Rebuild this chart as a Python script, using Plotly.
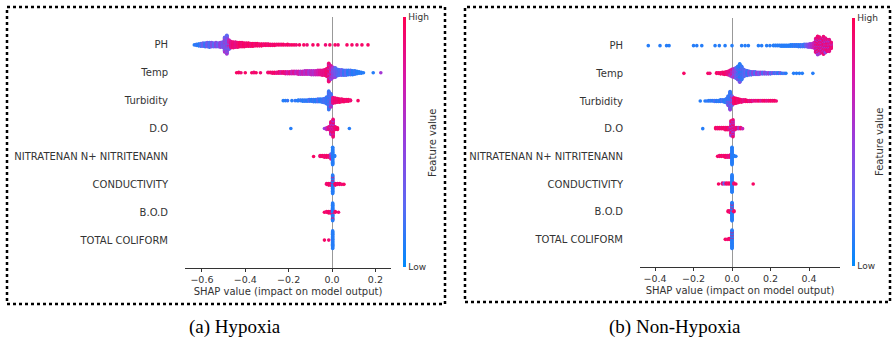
import math
import plotly.graph_objects as go

# Feature names, top to bottom
features = ["PH", "Temp", "Turbidity", "D.O", "NITRATENAN N+ NITRITENANN",
            "CONDUCTIVITY", "B.O.D", "TOTAL COLIFORM"]

# Each entry: (SHAP value bin, number of points, feature value 0=Low .. 1=High)
# ---------------- (a) Hypoxia ----------------
hyp_PH = [(-0.635, 1, 0.1), (-0.625, 3, 0.15), (-0.615, 5, 0.1), (-0.605, 7, 0.2), (-0.595, 8, 0.3),
          (-0.585, 9, 0.15), (-0.575, 10, 0.35), (-0.565, 11, 0.2), (-0.555, 10, 0.4), (-0.545, 9, 0.25),
          (-0.535, 10, 0.45), (-0.525, 9, 0.3), (-0.515, 11, 0.5), (-0.505, 12, 0.35),
          (-0.495, 20, 0.3), (-0.495, 12, 0.6), (-0.485, 22, 0.25), (-0.485, 18, 0.55),
          (-0.475, 14, 0.7), (-0.475, 6, 0.3),
          (-0.465, 14, 0.85), (-0.455, 13, 0.9), (-0.445, 12, 0.85), (-0.435, 11, 0.9), (-0.425, 10, 0.95),
          (-0.415, 10, 0.9), (-0.405, 9, 0.95), (-0.395, 8, 0.9), (-0.385, 8, 0.95), (-0.375, 7, 0.9),
          (-0.365, 7, 0.95), (-0.355, 6, 0.9), (-0.345, 6, 0.95), (-0.335, 5, 0.9), (-0.325, 5, 0.95),
          (-0.315, 4, 0.9), (-0.305, 4, 0.95), (-0.295, 4, 0.9), (-0.285, 3, 0.95), (-0.275, 3, 0.9),
          (-0.265, 3, 0.95), (-0.255, 2, 0.9), (-0.245, 2, 0.95), (-0.235, 2, 0.9), (-0.225, 2, 0.95),
          (-0.215, 1, 0.9), (-0.205, 2, 0.95), (-0.195, 1, 0.9), (-0.185, 1, 0.95),
          (-0.175, 1, 0.95), (-0.165, 1, 0.9), (-0.15, 1, 0.95), (-0.13, 1, 0.95), (-0.115, 1, 0.9),
          (-0.088, 1, 0.95), (-0.065, 1, 0.95), (-0.03, 1, 0.9), (-0.01, 1, 0.95), (0.014, 1, 0.95),
          (0.028, 1, 0.9), (0.069, 1, 0.95), (0.092, 1, 0.95), (0.115, 1, 0.9), (0.138, 1, 0.95),
          (0.166, 1, 0.95)]
hyp_Temp = [(-0.44, 1, 0.95), (-0.43, 2, 0.95), (-0.42, 1, 0.9), (-0.40, 1, 0.95), (-0.37, 1, 0.95),
            (-0.36, 2, 0.9), (-0.35, 1, 0.95), (-0.33, 1, 0.9),
            (-0.295, 2, 0.9), (-0.285, 2, 0.95), (-0.275, 3, 0.9), (-0.265, 3, 0.95), (-0.255, 3, 0.85),
            (-0.245, 4, 0.9), (-0.235, 4, 0.8), (-0.225, 4, 0.9), (-0.215, 5, 0.85), (-0.205, 5, 0.75),
            (-0.195, 5, 0.85), (-0.185, 6, 0.7), (-0.175, 6, 0.8), (-0.165, 6, 0.65), (-0.155, 7, 0.75),
            (-0.145, 7, 0.6), (-0.135, 7, 0.7), (-0.125, 8, 0.6), (-0.115, 8, 0.7), (-0.105, 8, 0.55),
            (-0.095, 9, 0.65), (-0.085, 9, 0.6), (-0.075, 9, 0.7), (-0.065, 10, 0.75), (-0.055, 10, 0.8),
            (-0.045, 11, 0.85), (-0.035, 12, 0.85), (-0.025, 16, 0.9),
            (-0.015, 26, 0.9), (-0.015, 12, 0.65), (-0.005, 16, 0.8), (-0.005, 12, 0.5),
            (0.005, 12, 0.55), (0.005, 10, 0.3), (0.015, 10, 0.45), (0.015, 10, 0.25),
            (0.025, 7, 0.4), (0.025, 7, 0.2), (0.035, 12, 0.2), (0.045, 12, 0.3), (0.055, 11, 0.15),
            (0.065, 11, 0.25), (0.075, 10, 0.1), (0.085, 10, 0.2), (0.095, 9, 0.1), (0.105, 8, 0.15),
            (0.115, 6, 0.1), (0.125, 4, 0.1), (0.135, 3, 0.1), (0.145, 1, 0.1),
            (0.19, 1, 0.1), (0.225, 1, 0.55)]
hyp_Turbidity = [(-0.225, 1, 0.1), (-0.215, 1, 0.1), (-0.205, 1, 0.15), (-0.185, 1, 0.1), (-0.17, 1, 0.15),
                 (-0.16, 1, 0.1), (-0.155, 2, 0.1), (-0.145, 2, 0.15), (-0.135, 3, 0.1), (-0.125, 3, 0.15),
                 (-0.115, 3, 0.1), (-0.105, 4, 0.2), (-0.095, 4, 0.1), (-0.085, 5, 0.15), (-0.075, 5, 0.1),
                 (-0.065, 6, 0.2), (-0.055, 6, 0.1), (-0.045, 7, 0.15), (-0.035, 9, 0.2), (-0.025, 14, 0.15),
                 (-0.015, 30, 0.15), (-0.015, 6, 0.4), (-0.005, 20, 0.2), (-0.005, 6, 0.6),
                 (0.005, 12, 0.85), (0.015, 10, 0.9), (0.025, 8, 0.9), (0.035, 7, 0.95), (0.045, 6, 0.9),
                 (0.055, 5, 0.95), (0.065, 4, 0.9), (0.075, 4, 0.95), (0.085, 2, 0.9), (0.12, 1, 0.95)]
hyp_DO = [(-0.19, 1, 0.1), (-0.035, 1, 0.5), (-0.025, 3, 0.7), (-0.015, 4, 0.85), (-0.005, 10, 0.9),
          (-0.005, 6, 0.6), (0.005, 14, 0.9), (0.005, 8, 0.6), (0.015, 4, 0.9), (0.025, 3, 0.95),
          (0.08, 1, 0.1)]
hyp_Nitrate = [(-0.085, 1, 0.95), (-0.055, 2, 0.9), (-0.045, 2, 0.95), (-0.035, 3, 0.9), (-0.025, 3, 0.95),
               (-0.015, 3, 0.9), (-0.005, 4, 0.85), (-0.005, 3, 0.3), (0.003, 22, 0.1), (0.012, 2, 0.1)]
hyp_Conductivity = [(-0.025, 2, 0.9), (-0.015, 3, 0.95), (-0.006, 3, 0.9), (0.003, 22, 0.1), (0.003, 3, 0.9),
                    (0.015, 3, 0.95), (0.025, 2, 0.9), (0.035, 2, 0.95), (0.045, 1, 0.9), (0.055, 1, 0.95)]
hyp_BOD = [(-0.035, 1, 0.95), (-0.025, 2, 0.9), (-0.015, 3, 0.95), (-0.006, 3, 0.9), (0.003, 22, 0.1),
           (0.003, 2, 0.9), (0.015, 2, 0.95), (0.03, 1, 0.9)]
hyp_Coliform = [(-0.035, 1, 0.95), (-0.015, 1, 0.9), (0.003, 22, 0.1)]

# ---------------- (b) Non-Hypoxia ----------------
non_PH = [(-0.435, 1, 0.1), (-0.374, 1, 0.1), (-0.34, 1, 0.1), (-0.327, 1, 0.1), (-0.2, 1, 0.1),
          (-0.183, 1, 0.1), (-0.157, 1, 0.1), (-0.088, 1, 0.1), (-0.066, 1, 0.1), (-0.036, 1, 0.1),
          (0.0, 1, 0.1), (0.05, 1, 0.1), (0.068, 1, 0.1), (0.085, 1, 0.1), (0.137, 1, 0.1),
          (0.154, 1, 0.1), (0.18, 1, 0.1), (0.197, 1, 0.1),
          (0.215, 2, 0.1), (0.225, 2, 0.1), (0.235, 2, 0.1), (0.245, 2, 0.1), (0.255, 3, 0.1),
          (0.265, 3, 0.1), (0.275, 3, 0.1), (0.285, 3, 0.1), (0.295, 3, 0.1), (0.305, 4, 0.1),
          (0.315, 4, 0.1), (0.325, 4, 0.15), (0.335, 4, 0.1), (0.345, 5, 0.15), (0.355, 5, 0.1),
          (0.365, 5, 0.2), (0.375, 6, 0.15), (0.385, 6, 0.3), (0.395, 7, 0.4), (0.405, 8, 0.5),
          (0.415, 9, 0.6), (0.425, 12, 0.7),
          (0.435, 20, 0.85), (0.435, 10, 0.6), (0.445, 26, 0.9), (0.445, 14, 0.55),
          (0.455, 24, 0.9), (0.455, 12, 0.6), (0.465, 20, 0.85), (0.465, 10, 0.55),
          (0.475, 26, 0.9), (0.475, 12, 0.6), (0.485, 22, 0.85), (0.485, 10, 0.5),
          (0.495, 18, 0.9), (0.495, 8, 0.6), (0.505, 18, 0.85), (0.505, 8, 0.55),
          (0.515, 10, 0.9), (0.515, 4, 0.6)]
non_Temp = [(-0.25, 1, 0.95), (-0.125, 1, 0.95), (-0.115, 1, 0.9), (-0.08, 2, 0.95), (-0.07, 2, 0.9),
            (-0.06, 3, 0.95), (-0.05, 4, 0.9), (-0.04, 5, 0.95), (-0.03, 6, 0.9), (-0.02, 8, 0.85),
            (-0.01, 9, 0.85), (-0.01, 3, 0.6), (0.0, 10, 0.8), (0.0, 6, 0.5), (0.01, 10, 0.6),
            (0.01, 8, 0.35), (0.02, 10, 0.5), (0.02, 12, 0.25), (0.03, 10, 0.4), (0.03, 18, 0.15),
            (0.04, 8, 0.4), (0.04, 30, 0.1), (0.05, 6, 0.4), (0.05, 22, 0.15), (0.06, 16, 0.2),
            (0.07, 12, 0.3), (0.08, 10, 0.15), (0.09, 8, 0.4), (0.10, 7, 0.2), (0.11, 6, 0.45),
            (0.12, 6, 0.2), (0.13, 5, 0.5), (0.14, 5, 0.3), (0.15, 4, 0.5), (0.16, 4, 0.2),
            (0.17, 4, 0.45), (0.18, 3, 0.3), (0.19, 3, 0.5), (0.20, 3, 0.2), (0.21, 2, 0.4),
            (0.22, 2, 0.15), (0.23, 2, 0.3), (0.24, 2, 0.1), (0.25, 2, 0.35), (0.26, 1, 0.1),
            (0.27, 1, 0.2), (0.28, 1, 0.1), (0.32, 1, 0.1), (0.335, 1, 0.1), (0.35, 1, 0.1),
            (0.365, 1, 0.1), (0.42, 1, 0.1)]
non_Turbidity = [(-0.165, 1, 0.1), (-0.14, 1, 0.1), (-0.13, 1, 0.15), (-0.12, 2, 0.1), (-0.11, 2, 0.15),
                 (-0.10, 2, 0.1), (-0.09, 3, 0.2), (-0.08, 3, 0.1), (-0.07, 3, 0.15), (-0.06, 4, 0.1),
                 (-0.05, 4, 0.2), (-0.04, 5, 0.1), (-0.03, 8, 0.15), (-0.02, 14, 0.15), (-0.02, 4, 0.45),
                 (-0.01, 26, 0.15), (-0.01, 8, 0.5), (0.0, 12, 0.3), (0.0, 6, 0.7),
                 (0.01, 12, 0.9), (0.02, 10, 0.95), (0.03, 8, 0.9), (0.04, 6, 0.95), (0.05, 5, 0.9),
                 (0.06, 4, 0.85), (0.07, 4, 0.9), (0.08, 3, 0.95), (0.09, 3, 0.85), (0.10, 3, 0.9),
                 (0.11, 2, 0.8), (0.12, 2, 0.9), (0.13, 2, 0.85), (0.14, 2, 0.95), (0.15, 2, 0.8),
                 (0.16, 2, 0.9), (0.17, 2, 0.95), (0.18, 2, 0.85), (0.19, 2, 0.9), (0.20, 2, 0.95),
                 (0.21, 2, 0.9), (0.22, 2, 0.95), (0.23, 1, 0.9)]
non_DO = [(-0.152, 1, 0.1), (-0.085, 2, 0.95), (-0.075, 2, 0.9), (-0.065, 2, 0.95), (-0.055, 2, 0.9),
          (-0.045, 2, 0.95), (-0.035, 3, 0.9), (-0.025, 3, 0.95), (-0.015, 3, 0.85), (-0.005, 10, 0.9),
          (-0.005, 6, 0.5), (0.005, 10, 0.9), (0.005, 8, 0.55), (0.015, 3, 0.85), (0.025, 2, 0.9),
          (0.035, 2, 0.6), (0.045, 2, 0.9), (0.055, 1, 0.7)]
non_Nitrate = [(-0.075, 1, 0.95), (-0.065, 2, 0.9), (-0.055, 2, 0.95), (-0.045, 2, 0.9), (-0.035, 3, 0.95),
               (-0.025, 3, 0.9), (-0.015, 3, 0.85), (-0.006, 4, 0.9), (0.0, 22, 0.1), (0.01, 2, 0.1),
               (0.02, 1, 0.1)]
non_Conductivity = [(-0.07, 1, 0.95), (-0.05, 2, 0.9), (-0.04, 2, 0.3), (-0.03, 2, 0.95), (-0.02, 2, 0.9),
                    (-0.01, 2, 0.95), (0.0, 22, 0.1), (0.01, 2, 0.9), (0.02, 1, 0.95), (0.11, 1, 0.95)]
non_BOD = [(-0.02, 2, 0.95), (-0.01, 3, 0.9), (0.0, 22, 0.1), (0.0, 3, 0.9), (0.01, 2, 0.95)]
non_Coliform = [(-0.035, 1, 0.95), (-0.025, 1, 0.9), (-0.015, 2, 0.95), (-0.005, 2, 0.9),
                (0.0, 22, 0.1), (0.0, 3, 0.9)]

hyp_rows = [hyp_PH, hyp_Temp, hyp_Turbidity, hyp_DO, hyp_Nitrate, hyp_Conductivity, hyp_BOD, hyp_Coliform]
non_rows = [non_PH, non_Temp, non_Turbidity, non_DO, non_Nitrate, non_Conductivity, non_BOD, non_Coliform]

hyp_xticks = [-0.6, -0.4, -0.2, 0.0, 0.2]
hyp_xticklabels = ["\u22120.6", "\u22120.4", "\u22120.2", "0.0", "0.2"]
non_xticks = [-0.4, -0.2, 0.0, 0.2, 0.4]
non_xticklabels = ["\u22120.4", "\u22120.2", "0.0", "0.2", "0.4"]

captions = ["(a) Hypoxia", "(b) Non-Hypoxia"]
xlabel = "SHAP value (impact on model output)"
cbar_title = "Feature value"


def swarm(bins):
    """Stack points that share a SHAP bin vertically (beeswarm, as shap does)."""
    groups, order = {}, []
    for x, n, fv in bins:
        key = round(x, 4)
        if key not in groups:
            groups[key] = []
            order.append(key)
        groups[key].append((n, fv))
    xs, layers, fvs = [], [], []
    for key in order:
        seq = []
        for j, (n, fv) in enumerate(groups[key]):
            for i in range(n):
                seq.append(((i + 0.5) / n, j, fv))
        seq.sort()
        seq = [s[2] for s in seq]
        for p in range((len(seq) - 1) // 2):
            if p % 2 == 1:
                a, b = 2 * p + 1, 2 * p + 2
                seq[a], seq[b] = seq[b], seq[a]
        for k, fv in enumerate(seq):
            layer = math.ceil(k / 2) * (1 if k % 2 else -1)
            xs.append(key)
            layers.append(layer)
            fvs.append(fv)
    L = max(abs(v) for v in layers)
    scale = 0.9 * 0.4 / (L + 1)
    return xs, [v * scale for v in layers], fvs


def panel_points(rows):
    X, Y, C = [], [], []
    nf = len(features)
    for i, bins in enumerate(rows):
        xs, offs, fvs = swarm(bins)
        pos = nf - 1 - i
        X += xs
        Y += [pos + o for o in offs]
        C += fvs
    return X, Y, C


W, H = 892, 340
FONT = "DejaVu Sans"
AX = "#333333"
cscale = [[0.0, "rgb(0,139,251)"], [0.25, "rgb(92,104,243)"], [0.5, "rgb(150,62,222)"],
          [0.75, "rgb(214,24,170)"], [1.0, "rgb(255,0,82)"]]

fig = go.Figure()
for rows, xa, ya, ca in [(hyp_rows, "x", "y", "coloraxis"), (non_rows, "x2", "y2", "coloraxis2")]:
    X, Y, C = panel_points(rows)
    fig.add_trace(go.Scatter(x=X, y=Y, mode="markers", xaxis=xa, yaxis=ya, showlegend=False,
                             hoverinfo="skip",
                             marker=dict(size=3.6, color=C, coloraxis=ca, line=dict(width=0))))


def px_x(p):
    return p / W


def px_y(p):
    return 1 - p / H


def xaxis_cfg(dom, rng, tv, tt, anchor):
    return dict(domain=dom, range=rng, anchor=anchor, tickvals=tv, ticktext=tt,
                showline=True, linecolor=AX, linewidth=1, ticks="outside", ticklen=3,
                tickcolor=AX, tickfont=dict(family=FONT, size=9.5, color=AX),
                showgrid=False, zeroline=True, zerolinecolor="#999999", zerolinewidth=1,
                automargin=False,
                title=dict(text=xlabel, font=dict(family=FONT, size=10, color=AX), standoff=3))


def yaxis_cfg(dom, anchor):
    nf = len(features)
    return dict(domain=dom, range=[-1, nf], anchor=anchor, tickvals=list(range(nf)),
                ticktext=features[::-1], showline=False, ticks="", showgrid=False,
                zeroline=False, ticklabelstandoff=16, automargin=False,
                tickfont=dict(family=FONT, size=10, color=AX))


def cbar(xp, y0, y1):
    return dict(x=px_x(xp), xanchor="left", y=px_y((y0 + y1) / 2), yanchor="middle",
                len=(y1 - y0) / H, lenmode="fraction", thickness=3, outlinewidth=0,
                xpad=0, ypad=0,
                tickvals=[0, 1], ticktext=["Low", "High"], ticks="",
                tickfont=dict(family=FONT, size=9, color=AX))


def cbar_label(xp, yp):
    return dict(text=cbar_title, x=px_x(xp), y=px_y(yp), xref="paper", yref="paper",
                xanchor="center", yanchor="middle", textangle=-90, showarrow=False,
                font=dict(family=FONT, size=10, color=AX))


fig.update_layout(
    width=W, height=H, margin=dict(l=0, r=0, t=0, b=0, pad=0, autoexpand=False),
    paper_bgcolor="white", plot_bgcolor="white",
    xaxis=xaxis_cfg([px_x(185), px_x(391)], [-0.678, 0.272], hyp_xticks, hyp_xticklabels, "y"),
    yaxis=yaxis_cfg([px_y(268), px_y(17)], "x"),
    xaxis2=xaxis_cfg([px_x(640), px_x(840)], [-0.478, 0.561], non_xticks, non_xticklabels, "y2"),
    yaxis2=yaxis_cfg([px_y(267), px_y(18)], "x2"),
    coloraxis=dict(colorscale=cscale, cmin=0, cmax=1, colorbar=cbar(403, 17, 267)),
    coloraxis2=dict(colorscale=cscale, cmin=0, cmax=1, colorbar=cbar(852, 18, 266)),
    shapes=[
        dict(type="rect", xref="paper", yref="paper", x0=px_x(7), x1=px_x(445), y0=px_y(304), y1=px_y(7),
             line=dict(color="black", width=2.5, dash="dot")),
        dict(type="rect", xref="paper", yref="paper", x0=px_x(465), x1=px_x(890), y0=px_y(302), y1=px_y(7),
             line=dict(color="black", width=2.5, dash="dot")),
    ],
    annotations=[
        cbar_label(432, 143),
        cbar_label(879, 142),
        dict(text=captions[0], x=px_x(235), y=px_y(327), xref="paper", yref="paper",
             xanchor="center", yanchor="middle", showarrow=False,
             font=dict(family="Liberation Serif", size=19, color="black")),
        dict(text=captions[1], x=px_x(675), y=px_y(327), xref="paper", yref="paper",
             xanchor="center", yanchor="middle", showarrow=False,
             font=dict(family="Liberation Serif", size=19, color="black")),
    ],
)

fig.write_html("out.html", config={"displayModeBar": False},
               post_script="document.body.style.margin='0';")
